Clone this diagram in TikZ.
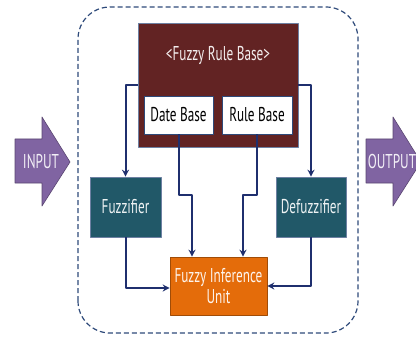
\documentclass[tikz,border=0pt]{standalone}
\usepackage{fontspec}
\setmainfont{PT Sans}[FakeStretch=0.66]
\usetikzlibrary{arrows.meta}

\definecolor{rulered}{HTML}{622323}
\definecolor{tealbox}{HTML}{215868}
\definecolor{orangebox}{HTML}{E46C0A}
\definecolor{navy}{HTML}{1F2F6E}
\definecolor{framecol}{HTML}{2E4A7A}
\definecolor{arrowpurple}{HTML}{8064A2}

\begin{document}
\begin{tikzpicture}[
  x=1pt,
  y=1pt,
  line join=round,
  font=\fontsize{20}{21}\selectfont,
  box/.style={
    draw=framecol!70,
    line width=0.6pt,
    inner sep=0pt,
  },
  flow/.style={
    navy,
    line width=2pt,
    -{Stealth[length=7pt,width=7pt]},
  },
  bigarrow/.style={
    fill=arrowpurple,
    draw=arrowpurple!70!black,
    line width=0.6pt,
  },
]

  \useasboundingbox (0,0) rectangle (416,341);

  % dashed border of the system
  \draw[framecol, line width=1.2pt, dash pattern=on 5pt off 3pt, rounded corners=32pt]
    (78,8) rectangle (358,334);

  \node[box, fill=rulered, minimum width=160pt, minimum height=124pt] (rb) at (218,256) {};
  \node[text=white!92!rulered] (rbtitle) at (218,286) {<Fuzzy Rule Base>};
  \node[box, fill=white, draw=framecol, minimum width=69pt, minimum height=38pt] (db) at (178.5,226) {Date Base};
  \node[box, fill=white, draw=framecol, minimum width=70pt, minimum height=38pt] (rbs) at (257,226) {Rule Base};

  \node[box, fill=tealbox, text=white!92!tealbox, minimum width=71pt, minimum height=60pt] (fz) at (125.5,134) {Fuzzifier};
  \node[box, fill=tealbox, text=white!92!tealbox, minimum width=70pt, minimum height=60pt] (dfz) at (311,134) {Defuzzifier};
  \node[box, fill=orangebox, draw=orangebox!70!black, text=white!92!orangebox, align=center,
        minimum width=97pt, minimum height=58pt] (fiu) at (218.5,55) {Fuzzy Inference\\[0pt]Unit};

  % input and output arrows
  \draw[bigarrow] (15,202) -- (42,202) -- (42,224) -- (70,179) -- (42,135) -- (42,158) -- (15,158) -- cycle;
  \draw[bigarrow] (366,202) -- (393,202) -- (393,224) -- (421,179) -- (393,135) -- (393,158) -- (366,158) -- cycle;
  \node[text=white!90!arrowpurple] (in) at (41,179) {INPUT};
  \node[text=white!90!arrowpurple] (out) at (392,179) {OUTPUT};

  \coordinate (jl) at (192,146);
  \coordinate (jr) at (243,146);

  \draw[flow] (rb.west) -| (fz.north);
  \draw[flow] (rb.east) -| (dfz.north);
  \draw[flow] (db.south) |- (jl) -- (jl |- fiu.north);
  \draw[flow] (rbs.south) |- (jr) -- (jr |- fiu.north);
  \draw[flow] (fz.south) |- ([yshift=-2pt]fiu.west);
  \draw[flow] (dfz.south) |- (fiu.east);

\end{tikzpicture}
\end{document}
